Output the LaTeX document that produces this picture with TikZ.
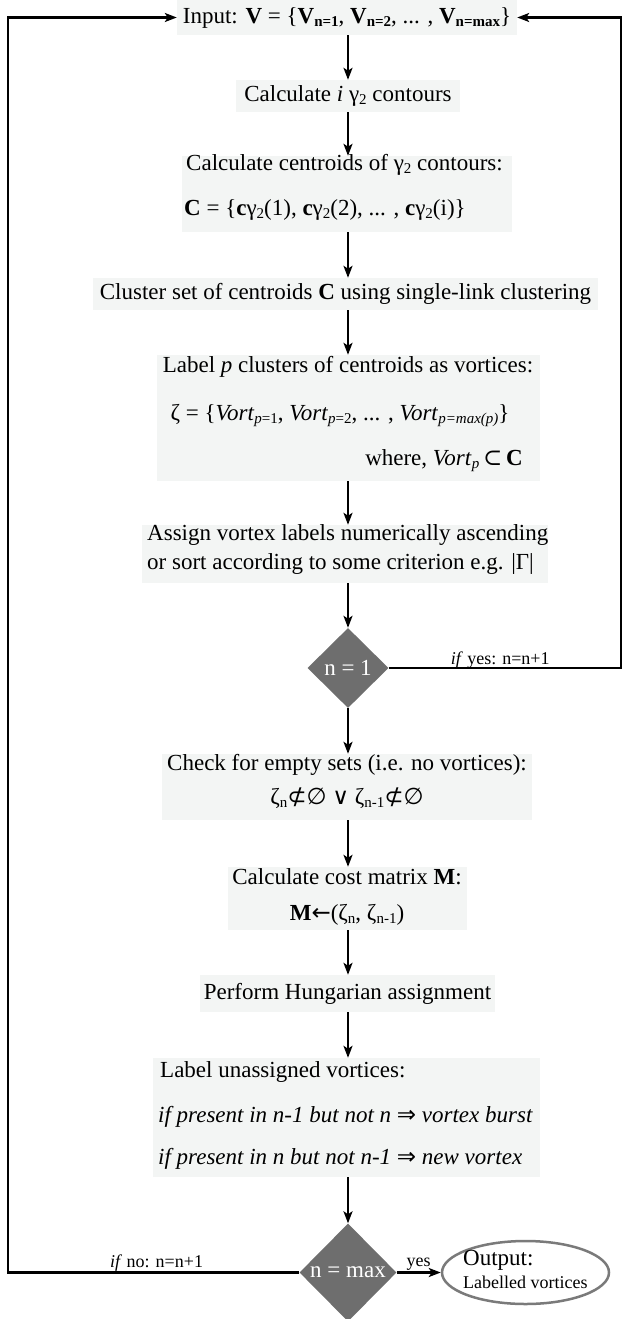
\documentclass[tikz,border=0pt]{standalone}
\usepackage{fontspec}
\setmainfont{Liberation Serif}
\newfontfamily\symf{DejaVu Sans}
\newfontfamily\symserif{DejaVu Serif}
\usetikzlibrary{shapes.geometric,arrows.meta}
\definecolor{boxfill}{HTML}{F3F5F4}
\definecolor{dgray}{HTML}{6E6E6E}
\definecolor{egray}{HTML}{7A7A7A}
\newcommand{\sbx}[1]{\raisebox{-0.3ex}{\fontsize{15}{15}\selectfont #1}}
\begin{document}
\begin{tikzpicture}[x=1pt,y=-1pt,
  box/.style={fill=boxfill, inner sep=0pt, font=\fontsize{23}{27}\selectfont},
  txt/.style={inner sep=0pt, font=\fontsize{23}{27}\selectfont},
  dec/.style={shape=diamond, fill=dgray, text=white, inner sep=0pt, aspect=1, font=\fontsize{23}{27}\selectfont},
  arr/.style={line width=2.2pt, -{Stealth[length=12pt,width=9pt,inset=3pt]}},
  lbl/.style={inner sep=0pt, font=\fontsize{18}{20}\selectfont},
]
\useasboundingbox (0,0) rectangle (623,1319);
% boxes
\node[box, minimum width=340pt, minimum height=35pt] (b1) at (347,17.5)
  {Input: \textbf{V} = \{\textbf{V}\sbx{\textbf{n=1}}, \textbf{V}\sbx{\textbf{n=2}}, ... , \textbf{V}\sbx{\textbf{n=max}}\}};
\node[box, minimum width=224pt, minimum height=32pt] (b2) at (348,96)
  {Calculate \textit{i} γ\sbx{2} contours};
\node[box, minimum width=330pt, minimum height=76pt] (b3) at (347,194) {};
\node[txt, anchor=mid west] (t3a) at (186,168) {Calculate centroids of γ\sbx{2} contours:};
\node[txt, anchor=mid west] (t3b) at (184,213) {\textbf{C} = \{\textbf{c}γ\sbx{2}(1), \textbf{c}γ\sbx{2}(2), ... , \textbf{c}γ\sbx{2}(i)\}};
\node[box, minimum width=505pt, minimum height=32pt] (b4) at (345.5,294)
  {Cluster set of centroids \textbf{C} using single-link clustering};
\node[box, minimum width=383pt, minimum height=126pt] (b5) at (348.5,418) {};
\node[txt, anchor=mid] (t5a) at (348,370) {Label \textit{p} clusters of centroids as vortices:};
\node[txt, anchor=mid] (t5b) at (340,418) {ζ = \{\textit{Vort}\sbx{\textit{p}=1}, \textit{Vort}\sbx{\textit{p}=2}, ... , \textit{Vort}\sbx{\textit{p=max(p)}}\}};
\node[txt, anchor=mid east] (t5c) at (523,463) {where, \textit{Vort}\sbx{\textit{p}}\,{\symserif ⊂}\,\textbf{C}};
\node[box, minimum width=406pt, minimum height=58pt] (b6) at (345,554) {};
\node[txt, anchor=mid west] (t6a) at (147,538) {Assign vortex labels numerically ascending};
\node[txt, anchor=mid west] (t6b) at (147,567) {or sort according to some criterion e.g. |Γ|};
\node[dec, minimum width=81pt, minimum height=80pt] (d1) at (348,668) {n = 1};
\node[box, minimum width=370pt, minimum height=66pt] (b7) at (347,787) {};
\node[txt, anchor=mid] (t7a) at (347,768) {Check for empty sets (i.e. no vortices):};
\node[txt, anchor=mid] (t7b) at (347,802) {ζ\sbx{n}{\symf ⊄∅} {\symf ∨} ζ\sbx{n-1}{\symf ⊄∅}};
\node[box, minimum width=239pt, minimum height=63pt] (b8) at (347.5,898.5) {};
\node[txt, anchor=mid] (t8a) at (347,882) {Calculate cost matrix \textbf{M}:};
\node[txt, anchor=mid] (t8b) at (347,918) {\textbf{M}{\symf ←}(ζ\sbx{n}, ζ\sbx{n-1})};
\node[box, minimum width=295pt, minimum height=37pt] (b9) at (347.5,993.5)
  {Perform Hungarian assignment};
\node[box, minimum width=387pt, minimum height=119pt] (b10) at (346.5,1117.5) {};
\node[txt, anchor=mid west] (t10a) at (160,1075) {Label unassigned vortices:};
\node[txt, anchor=mid west] (t10b) at (158,1120) {\textit{if present in n-1 but not n} {\symf ⇒} \textit{vortex burst}};
\node[txt, anchor=mid west] (t10c) at (158,1162) {\textit{if present in n but not n-1} {\symf ⇒} \textit{new vortex}};
\node[dec, minimum width=97pt, minimum height=98pt] (d2) at (348,1272.5) {n = max};
\node[shape=ellipse, draw=egray, line width=2.5pt, fill=white, minimum width=167pt, minimum height=63pt] (out) at (525.5,1272.5) {};
\node[txt, anchor=mid west] (to1) at (463,1263) {Output:};
\node[lbl, anchor=mid west] (to2) at (463,1286) {Labelled vortices};
% coordinates for loops
\coordinate (rR) at (621,668);
\coordinate (rT) at (621,17.5);
\coordinate (lB) at (8,1272.5);
\coordinate (lT) at (8,17.5);
% connectors (vertical column at x of d1)
\draw[arr] (b1.south -| d1) -- (b2.north -| d1);
\draw[arr] (b2.south -| d1) -- (b3.north -| d1);
\draw[arr] (b3.south -| d1) -- (b4.north -| d1);
\draw[arr] (b4.south -| d1) -- (b5.north -| d1);
\draw[arr] (b5.south -| d1) -- (b6.north -| d1);
\draw[arr] (b6.south -| d1) -- (d1.north);
\draw[arr] (d1.south) -- (b7.north -| d1);
\draw[arr] (b7.south -| d1) -- (b8.north -| d1);
\draw[arr] (b8.south -| d1) -- (b9.north -| d1);
\draw[arr] (b9.south -| d1) -- (b10.north -| d1);
\draw[arr] (b10.south -| d1) -- (d2.north);
\draw[arr] (d2.east) -- node[lbl, anchor=base, yshift=6pt] {yes} (out.west);
\draw[arr] (d1.east) -- node[lbl, anchor=base, yshift=4pt, pos=0.48] {\textit{if} yes: n=n+1} (rR) -- (rT) -- (b1.east);
\draw[arr] (d2.west) -- node[lbl, anchor=base, yshift=5pt, pos=0.49] {\textit{if} no: n=n+1} (lB) -- (lT) -- (b1.west);
\end{tikzpicture}
\end{document}
